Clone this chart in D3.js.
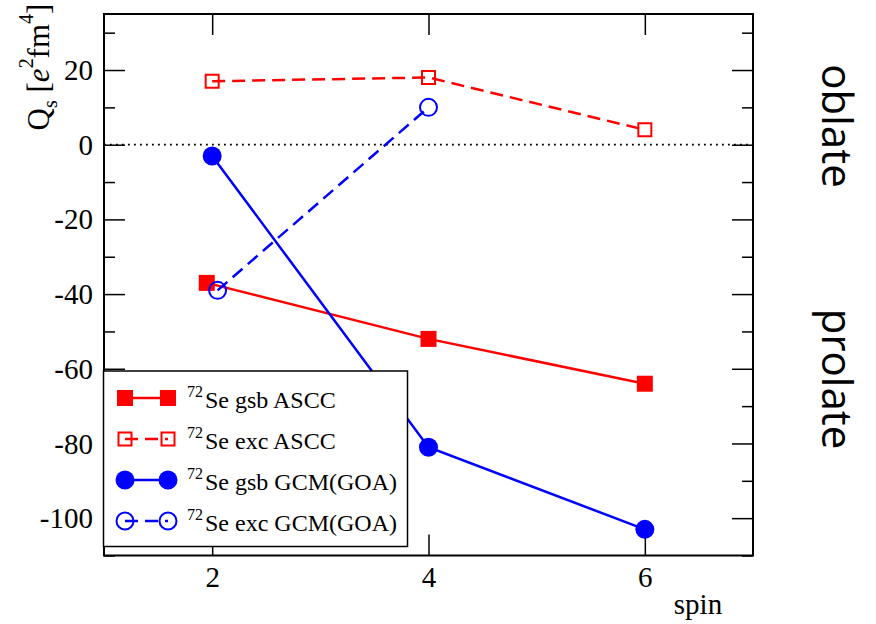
<!DOCTYPE html>
<html>
<head>
<meta charset="utf-8">
<script src="https://cdn.jsdelivr.net/npm/d3@7"></script>
<style>
  body { margin: 0; background: #fff; }
  svg { display: block; }
</style>
</head>
<body>
<svg id="chart" width="876" height="624"></svg>
<script>
// Quadrupole moments Q_s of 72Se bands versus spin
const gsbAsccSpin = [1.95, 4, 6];
const gsbAscc     = [-37, -52, -64];
const excAsccSpin = [2, 4, 6];
const excAscc     = [17, 18, 4];
const gsbGcmSpin  = [2, 4, 6];
const gsbGcm      = [-3, -81, -103];
const excGcmSpin  = [2.05, 4];
const excGcm      = [-39, 10];

const seriesLabels = ["Se gsb ASCC", "Se exc ASCC", "Se gsb GCM(GOA)", "Se exc GCM(GOA)"];
const massNumber = "72";
const xTickValues = [2, 4, 6];
const yMajorTicks = [20, 0, -20, -40, -60, -80, -100];
const yMinorTicks = [30, 10, -10, -30, -50, -70, -90, -110];
const shapeLabels = ["oblate", "prolate"];

const RED = "#ff0000", BLUE = "#0000ff";
const SERIF = "'Liberation Serif', 'Times New Roman', serif";

const svg = d3.select("#chart");
const plotL = 104, plotR = 753, plotT = 14, plotB = 555.5;

const x = d3.scaleLinear().domain([1, 7]).range([plotL, plotR]);
const y = d3.scaleLinear().domain([-110, 35]).range([plotB, plotT]);

// zero reference line
svg.append("line")
  .attr("x1", plotL).attr("x2", plotR)
  .attr("y1", y(0)).attr("y2", y(0))
  .attr("stroke", "#000").attr("stroke-width", 1.8)
  .attr("stroke-dasharray", "1.8,4.2");

// axes: ticks point inward on all four sides
function styleAxis(g, withLabels) {
  g.select(".domain").remove();
  g.selectAll(".tick line").attr("stroke", "#000").attr("stroke-width", 1.5);
  g.selectAll("text")
    .style("font-family", SERIF).style("font-size", "29px").attr("fill", "#000");
  if (!withLabels) g.selectAll("text").remove();
}

svg.append("g").attr("transform", `translate(${plotL},0)`)
  .call(d3.axisLeft(y).tickValues(yMajorTicks).tickSize(-21).tickPadding(11)
        .tickFormat(d => String(d)))
  .call(g => styleAxis(g, true))
  .call(g => g.selectAll("text").attr("dy", "0.33em"));
svg.append("g").attr("transform", `translate(${plotL},0)`)
  .call(d3.axisLeft(y).tickValues(yMinorTicks).tickSize(-11))
  .call(g => styleAxis(g, false));
svg.append("g").attr("transform", `translate(${plotR},0)`)
  .call(d3.axisRight(y).tickValues(yMajorTicks).tickSize(-21))
  .call(g => styleAxis(g, false));
svg.append("g").attr("transform", `translate(${plotR},0)`)
  .call(d3.axisRight(y).tickValues(yMinorTicks).tickSize(-11))
  .call(g => styleAxis(g, false));
svg.append("g").attr("transform", `translate(0,${plotB})`)
  .call(d3.axisBottom(x).tickValues(xTickValues).tickSize(-21).tickPadding(11).tickFormat(d => String(d)))
  .call(g => styleAxis(g, true));
svg.append("g").attr("transform", `translate(0,${plotT})`)
  .call(d3.axisTop(x).tickValues(xTickValues).tickSize(-21))
  .call(g => styleAxis(g, false));

// frame
svg.append("rect")
  .attr("x", plotL).attr("y", plotT)
  .attr("width", plotR - plotL).attr("height", plotB - plotT)
  .attr("fill", "none").attr("stroke", "#000").attr("stroke-width", 2);

// series definitions
const series = [
  { xs: gsbAsccSpin, ys: gsbAscc, color: RED,  shape: "square", filled: true,  dashed: false },
  { xs: excAsccSpin, ys: excAscc, color: RED,  shape: "square", filled: false, dashed: true  },
  { xs: gsbGcmSpin,  ys: gsbGcm,  color: BLUE, shape: "circle", filled: true,  dashed: false },
  { xs: excGcmSpin,  ys: excGcm,  color: BLUE, shape: "circle", filled: false, dashed: true  }
];

function markerPath(s) {
  if (s.shape === "square") return d3.symbol(d3.symbolSquare, s.filled ? 256 : 169)();
  const r = s.filled ? 9.5 : 8.5;
  return d3.symbol(d3.symbolCircle, Math.PI * r * r)();
}

function drawSeries(g, s, pts) {
  g.append("path")
    .datum(pts)
    .attr("d", d3.line().x(p => p[0]).y(p => p[1]))
    .attr("fill", "none").attr("stroke", s.color).attr("stroke-width", 2.5)
    .attr("stroke-dasharray", s.dashed ? "13,7" : null);
  g.selectAll(null).data(pts).enter().append("path")
    .attr("d", markerPath(s))
    .attr("transform", p => `translate(${p[0]},${p[1]})`)
    .attr("fill", s.filled ? s.color : "none")
    .attr("stroke", s.filled ? "none" : s.color)
    .attr("stroke-width", 2);
}

const plot = svg.append("g");
series.forEach(s => {
  const pts = s.xs.map((v, i) => [x(v), y(s.ys[i])]);
  drawSeries(plot.append("g"), s, pts);
});

// legend
const legend = svg.append("g");
legend.append("rect")
  .attr("x", 103.5).attr("y", 371).attr("width", 304).attr("height", 175.5)
  .attr("fill", "#fff").attr("stroke", "#000").attr("stroke-width", 1.5);
series.forEach((s, i) => {
  const cy = 398 + i * 41;
  drawSeries(legend.append("g"), s, [[125, cy], [168, cy]]);
  const t = legend.append("text").attr("x", 187).attr("y", cy + 10)
    .style("font-family", SERIF).attr("fill", "#000");
  t.append("tspan").attr("dy", -11).style("font-size", "16px").text(massNumber);
  t.append("tspan").attr("x", 205).attr("dy", 11).style("font-size", "24px").text(seriesLabels[i]);
});

// axis titles
const yTitle = svg.append("text")
  .attr("transform", "translate(49,67) rotate(-90)")
  .attr("text-anchor", "middle")
  .style("font-family", SERIF).style("font-size", "31px").attr("fill", "#000");
yTitle.append("tspan").text("Q");
yTitle.append("tspan").attr("dy", 8).style("font-size", "20px").text("s");
yTitle.append("tspan").attr("dy", -8).text(" [");
yTitle.append("tspan").style("font-style", "italic").text("e");
yTitle.append("tspan").attr("dy", -16).style("font-size", "20px").text("2");
yTitle.append("tspan").attr("dy", 16).text("fm");
yTitle.append("tspan").attr("dy", -16).style("font-size", "20px").text("4");
yTitle.append("tspan").attr("dy", 16).text("]");

svg.append("text")
  .attr("x", 698).attr("y", 614)
  .attr("text-anchor", "middle")
  .style("font-family", SERIF).style("font-size", "29px").attr("fill", "#000")
  .text("spin");

// shape annotations on the right
[[shapeLabels[0], 126], [shapeLabels[1], 379]].forEach(([label, cy]) => {
  svg.append("text")
    .attr("transform", `translate(822,${cy}) rotate(90)`)
    .attr("text-anchor", "middle")
    .style("font-family", "'Open Sans', sans-serif").style("font-size", "42px").attr("fill", "#000")
    .text(label);
});
</script>
</body>
</html>
